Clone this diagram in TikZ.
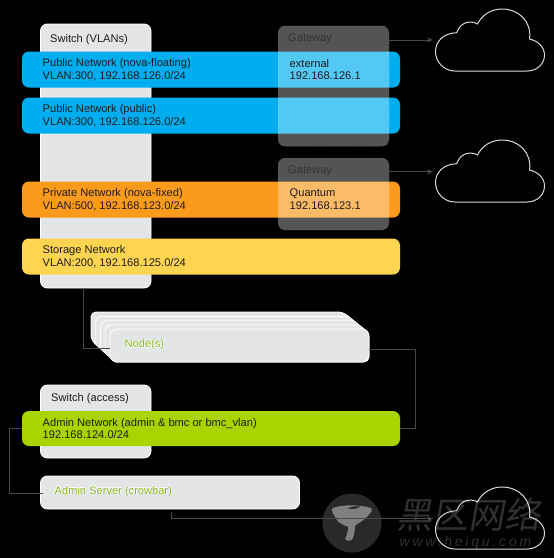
\documentclass[tikz,border=0pt]{standalone}
\usepackage{fontspec}
\usepackage{contour}
\setmainfont{Liberation Sans}
\newfontfamily\cjkwm[FakeSlant=0.18]{Noto Sans CJK SC}
\newfontfamily\urlwm[LetterSpace=20]{Liberation Sans}
\usetikzlibrary{arrows.meta}
\definecolor{swgray}{HTML}{E4E5E7}
\definecolor{netblue}{HTML}{00AEEF}
\definecolor{netorange}{HTML}{FC9A1C}
\definecolor{netyellow}{HTML}{FFD450}
\definecolor{netgreen}{HTML}{AAD400}
\definecolor{labgreen}{HTML}{86B51A}
\definecolor{txt}{HTML}{1C1C1C}
\definecolor{wire}{HTML}{4A4A4A}
\definecolor{wm}{HTML}{303030}
\contourlength{0.35pt}
\tikzset{
  box/.style={draw=white,line width=0.9pt,fill=swgray,rounded corners=7pt,inner sep=0pt,outer sep=0pt},
  netbar/.style={rounded corners=7pt,inner sep=0pt,outer sep=0pt,minimum width=378pt,minimum height=36pt},
  gatebox/.style={draw=white,draw opacity=.25,dotted,line width=.5pt,fill=white,fill opacity=.33,rounded corners=7pt,inner sep=0pt,outer sep=0pt,minimum width=111pt},
  lab/.style={anchor=west,inner sep=0pt,text=txt,font=\fontsize{11.1}{12.8}\selectfont,align=left},
  gatelab/.style={anchor=west,inner sep=0pt,font=\fontsize{11.1}{13}\selectfont},
  greenlab/.style={anchor=west,inner sep=0pt,font=\fontsize{11.1}{13}\selectfont},
  wireline/.style={draw=wire,line width=.8pt},
  wirearrow/.style={wireline,-{Stealth[length=6pt,width=5pt]}},
  cloudline/.style={draw=white!85!black,line width=1pt}
}
\newcommand{\cloudshape}[2]{%
  \draw[cloudline,shift={(#1,#2)}] (20,62) -- (92,62)
    .. controls (102,62) and (109.5,55) .. (109.5,46)
    .. controls (109.5,38) and (103,32) .. (94.5,30)
    .. controls (97,13) and (84,0) .. (67,0)
    .. controls (56,0) and (47,6) .. (42.5,15)
    .. controls (38,12) and (26,11) .. (21.7,23.7)
    .. controls (9,24) and (0.5,32) .. (0.5,42.5)
    .. controls (0.5,53) and (9,62) .. (20,62) -- cycle;}
\begin{document}
\begin{tikzpicture}[x=1pt,y=-1pt]
\useasboundingbox[fill=black] (0,0) rectangle (554,558);
% switches and servers
\node[box,minimum width=110.5pt,minimum height=264pt] (swv) at (95.75,156) {};
\node[box,minimum width=110.5pt,minimum height=73pt] (swa) at (95.75,421.5) {};
\node[box,minimum width=259pt,minimum height=33pt] (admin) at (170,492.5) {};
% node stack: common chamfered outline, then the layer edges
\draw[draw=white,line width=.9pt,fill=swgray,rounded corners=5pt]
  (91,340) -- (91,312) -- (343,312) -- (369,333) -- (369,345) -- (369,362) -- (120,362) -- (115,362) -- cycle;
\foreach \xa/\ya/\xe/\ye in {95.75/316.5/348.5/344.4,100.5/320.7/353.5/348.7,105.25/325/358.5/353}{
  \draw[draw=white,line width=.9pt,rounded corners=6pt] (\xa,\ye) -- (\xa,\ya) -- (\xe,\ya);
}
\node[box,minimum width=259pt,minimum height=33pt,anchor=north west] (front) at (110,329) {};
% network bars
\node[netbar,fill=netblue] (pubf) at (211,69.5) {};
\node[netbar,fill=netblue] (pubp) at (211,115.5) {};
\node[netbar,fill=netorange] (priv) at (211,199.5) {};
\node[netbar,fill=netyellow] (stor) at (211,256.5) {};
\node[netbar,fill=netgreen,minimum height=35pt] (adm) at (211,428.5) {};
% gateways
\node[gatebox,minimum height=120.5pt] (gw1) at (333.5,86) {};
\node[gatebox,minimum height=72pt] (gw2) at (333.5,194) {};
% texts
\node[lab] (tswv) at (50,39.7) {Switch (VLANs)};
\node[lab] (tpf) at (42.5,69.5) {Public Network (nova-floating)\\VLAN:300, 192.168.126.0/24};
\node[lab] (tpp) at (42.5,115.5) {Public Network (public)\\VLAN:300, 192.168.126.0/24};
\node[lab] (tpr) at (42.5,199.5) {Private Network (nova-fixed)\\VLAN:500, 192.168.123.0/24};
\node[lab] (tst) at (42.5,256.5) {Storage Network\\VLAN:200, 192.168.125.0/24};
\node[gatelab,text=black!80] (tg1) at (288,39) {Gateway};
\node[lab] (text1) at (289.5,69.5) {external\\192.168.126.1};
\node[gatelab,text=black!80] (tg2) at (288,171) {Gateway};
\node[lab] (text2) at (289.5,199.5) {Quantum\\192.168.123.1};
\node[greenlab] (tn) at (124.5,345) {\contour{white}{\textcolor{labgreen}{Node(s)}}};
\node[lab] (tswa) at (51,399) {Switch (access)};
\node[lab] (tadm) at (42.5,428.5) {Admin Network (admin \& bmc or bmc\_vlan)\\192.168.124.0/24};
\node[greenlab] (tas) at (54.5,491.5) {\contour{white}{\textcolor{labgreen}{Admin Server (crowbar)}}};
% clouds
\cloudshape{435}{9}
\cloudshape{435}{140}
\coordinate (in1) at (433,40);
\coordinate (in2) at (433,171.7);
\coordinate (in3) at (433,518.7);
% connectors
\draw[wirearrow] (gw1.east |- in1) -- (in1);
\draw[wirearrow] (gw2.east |- in2) -- (in2);
\draw[wireline] ([xshift=-12.75pt]swv.south) |- ([yshift=-2.5pt]front.west);
\draw[wireline] ([yshift=-3.5pt]front.east) -- ++(46,0) |- (adm.east);
\draw[wireline] (adm.west) -- ++(-12.5,0) |- ([xshift=2pt,yshift=-1pt]admin.west);
% watermark
\node[circle,fill=black!84,inner sep=0pt,minimum size=59pt] (wmc) at (352,523) {};
\fill[black!50] (331.7,509) .. controls (337,504.5) and (360,504) .. (371.7,508.3)
  .. controls (373,511) and (371,512) .. (370,513.3)
  .. controls (367,518) and (362,521) .. (358.3,523.3)
  .. controls (356.5,524.5) and (355.5,525) .. (355,526.7)
  .. controls (354.5,532) and (354,537) .. (351.7,540)
  .. controls (349.5,541.5) and (346,541) .. (345,539)
  .. controls (347,535) and (348,531) .. (348.3,526.7)
  .. controls (342,525) and (337,522) .. (335,516.7)
  .. controls (333,514) and (332,512) .. (331.7,509) -- cycle;
\fill[black!84] (348,508.5) .. controls (352,506) and (358,506) .. (360,506.5) .. controls (358,509) and (352,509.5) .. (348,508.5) -- cycle;
\node[inner sep=0pt,text=wm,font=\cjkwm\fontsize{36}{36}\selectfont] (wmt) at (468.5,515) {黑区网络};
\node[inner sep=0pt,text=wm,font=\urlwm\itshape\fontsize{14}{14}\selectfont] (wmu) at (465.5,543) {www.heiqu.com};
\cloudshape{435}{487}
\draw[wirearrow] ([xshift=1pt,yshift=-3pt]admin.south) |- (in3);
\end{tikzpicture}
\end{document}
